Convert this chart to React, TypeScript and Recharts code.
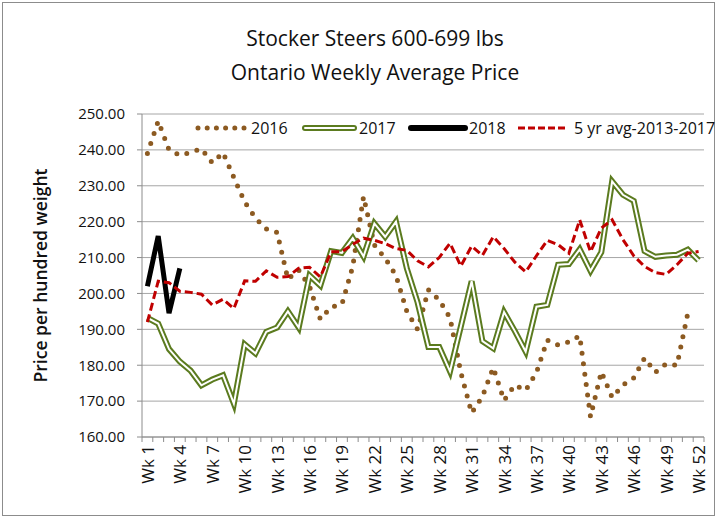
import React from 'react';
import { ComposedChart, Line, XAxis, YAxis, CartesianGrid } from 'recharts';

const weeks: string[] = Array.from({ length: 52 }, (_, i) => `Wk ${i + 1}`);

const y2016: (number | null)[] = [
  239, 248, 240, 238.5, 239.3, 240.3, 236.4, 239.2, 232.3, 225.5,
  221, 218, 217, 204, 206.5, 202, 192.8, 196.2, 197, 207.5,
  227, 213.5, 209.8, 205, 195, 190, 201, 198.2, 193.2, 178,
  166.7, 171.3, 179.3, 170.2, 174.5, 173, 178, 187, 185.6, 186.5,
  188.2, 165.6, 178.2, 171, 174.5, 176.5, 182, 178, 180.4, 180,
  194.5, null,
];

const y2017: number[] = [
  193.2, 191.6, 184.5, 181, 178.5, 174.4, 176, 177.2, 169.3, 185.8,
  183.3, 189.3, 190.5, 195, 190.5, 205, 202.2, 211.8, 211.3, 215.4,
  210.3, 219.5, 215.8, 220, 207, 197.5, 185.1, 185.1, 178.3, 190.8,
  203.4, 186.7, 184.7, 194.8, 189.5, 183.8, 196.3, 196.8, 208, 208.2,
  212.3, 206.3, 211.5, 231.2, 227.5, 225.8, 211.8, 210.2, 210.6, 210.8,
  212.2, 209.2,
];

const y2018: (number | null)[] = [202, 216, 194.5, 207];

const yAvg: number[] = [
  192, 203.4, 203, 200.6, 200.3, 199.8, 196.8, 198.4, 195.8, 203.5,
  203.4, 206.3, 204.5, 204.7, 207, 207.3, 204.6, 211.6, 211.6, 213.7,
  215.4, 214.8, 213.9, 212.5, 212, 209.1, 207.4, 210, 214, 207.6,
  213.2, 210.6, 215.8, 212.5, 208.7, 206, 210.5, 214.8, 213.6, 211.2,
  220.5, 211.6, 218.2, 220.5, 215, 210.5, 207.5, 205.8, 205.3, 208,
  211.2, 211.7,
];

const yTicks: number[] = [160, 170, 180, 190, 200, 210, 220, 230, 240, 250];

const seriesNames = ['2016', '2017', '2018', '5 yr avg-2013-2017'];
const titleLines = ['Stocker Steers 600-699 lbs', 'Ontario Weekly Average Price'];
const yAxisTitle = 'Price per hundred weight';

const data = weeks.map((w, i) => ({
  week: w,
  s2016: y2016[i] ?? null,
  s2017: y2017[i] ?? null,
  s2018: y2018[i] ?? null,
  avg: yAvg[i] ?? null,
}));

const PLOT_LEFT = 142;
const PLOT_RIGHT = 704;
const PLOT_TOP = 114;
const PLOT_BOTTOM = 437;
const X_AXIS_H = 75;
const BAND = (PLOT_RIGHT - PLOT_LEFT) / weeks.length;

const BROWN = '#8C5A21';
const GREEN = '#5B7B1F';
const RED = '#C00000';
const AXIS = '#8c8c8c';

const WeekTick = (props: any) => {
  const { x, y, payload } = props;
  const index = props.index ?? payload?.index ?? 0;
  const half = BAND / 2;
  return (
    <g>
      <line x1={x - half} x2={x - half} y1={y} y2={y + 5} stroke={AXIS} strokeWidth={1} />
      {index === weeks.length - 1 && (
        <line x1={x + half} x2={x + half} y1={y} y2={y + 5} stroke={AXIS} strokeWidth={1} />
      )}
      {index % 3 === 0 && (
        <text
          transform={`translate(${x},${y + 8}) rotate(-90)`}
          textAnchor="end"
          dominantBaseline="central"
          fontSize={17}
          fill="#111"
        >
          {payload.value}
        </text>
      )}
    </g>
  );
};

export default function App() {
  return (
    <div
      style={{
        position: 'absolute',
        left: 0,
        top: 0,
        width: 717,
        height: 518,
        background: '#fff',
        fontFamily: '"Open Sans", sans-serif',
      }}
    >
      <ComposedChart
        width={717}
        height={518}
        data={data}
        margin={{
          top: PLOT_TOP,
          right: 717 - PLOT_RIGHT,
          bottom: 518 - PLOT_BOTTOM - X_AXIS_H,
          left: 0,
        }}
      >
        <CartesianGrid vertical={false} stroke="#a6a6a6" strokeWidth={1} />
        <XAxis
          dataKey="week"
          scale="band"
          interval={0}
          height={X_AXIS_H}
          tickSize={0}
          tickMargin={0}
          tickLine={false}
          axisLine={{ stroke: AXIS, strokeWidth: 1 }}
          tick={<WeekTick />}
        />
        <YAxis
          width={PLOT_LEFT}
          domain={[160, 250]}
          ticks={yTicks}
          interval={0}
          tickFormatter={(v: number) => v.toFixed(2)}
          tickSize={5}
          tickMargin={12}
          tickLine={{ stroke: AXIS }}
          axisLine={{ stroke: AXIS, strokeWidth: 1 }}
          tick={{ fontSize: 15, fill: '#111' }}
          allowDataOverflow
        />
        <Line
          dataKey="s2016"
          stroke={BROWN}
          strokeWidth={5}
          strokeDasharray="0 10.5"
          strokeLinecap="round"
          dot={false}
          activeDot={false}
          isAnimationActive={false}
          type="linear"
        />
        <Line
          dataKey="s2017"
          stroke={GREEN}
          strokeWidth={6}
          dot={false}
          activeDot={false}
          isAnimationActive={false}
          type="linear"
        />
        <Line
          dataKey="s2017"
          stroke="#ffffff"
          strokeWidth={2}
          dot={false}
          activeDot={false}
          isAnimationActive={false}
          type="linear"
          legendType="none"
        />
        <Line
          dataKey="s2018"
          stroke="#000000"
          strokeWidth={5}
          dot={false}
          activeDot={false}
          isAnimationActive={false}
          type="linear"
        />
        <Line
          dataKey="avg"
          stroke={RED}
          strokeWidth={3}
          strokeDasharray="8 4"
          dot={false}
          activeDot={false}
          isAnimationActive={false}
          type="linear"
        />
      </ComposedChart>
      <svg
        width={717}
        height={518}
        style={{ position: 'absolute', left: 0, top: 0, pointerEvents: 'none' }}
      >
        <rect x={2.5} y={2.5} width={712} height={513} fill="none" stroke="#8c8c8c" strokeWidth={1} />
        <text x={375} y={38} textAnchor="middle" dominantBaseline="central" fontSize={21} fill="#111">
          {titleLines[0]}
        </text>
        <text x={375} y={72} textAnchor="middle" dominantBaseline="central" fontSize={21} fill="#111">
          {titleLines[1]}
        </text>
        <text
          transform={`translate(40,${(PLOT_TOP + PLOT_BOTTOM) / 2}) rotate(-90)`}
          textAnchor="middle"
          dominantBaseline="central"
          fontSize={17.5}
          fontWeight={600}
          fill="#111"
        >
          {yAxisTitle}
        </text>
        {/* legend */}
        <line x1={198} x2={244} y1={128} y2={128} stroke={BROWN} strokeWidth={5} strokeDasharray="0 9.2" strokeLinecap="round" />
        <text x={251} y={128} dominantBaseline="central" fontSize={16} fill="#111">{seriesNames[0]}</text>
        <line x1={305} x2={354} y1={128} y2={128} stroke={GREEN} strokeWidth={6} strokeLinecap="round" />
        <line x1={305} x2={354} y1={128} y2={128} stroke="#fff" strokeWidth={2} strokeLinecap="round" />
        <text x={359} y={128} dominantBaseline="central" fontSize={16} fill="#111">{seriesNames[1]}</text>
        <line x1={411} x2={465} y1={128} y2={128} stroke="#000" strokeWidth={6} strokeLinecap="round" />
        <text x={469} y={128} dominantBaseline="central" fontSize={16} fill="#111">{seriesNames[2]}</text>
        <line x1={518} x2={568} y1={128} y2={128} stroke={RED} strokeWidth={3} strokeDasharray="7 3" />
        <text x={574} y={128} dominantBaseline="central" fontSize={16} fill="#111">{seriesNames[3]}</text>
      </svg>
    </div>
  );
}
